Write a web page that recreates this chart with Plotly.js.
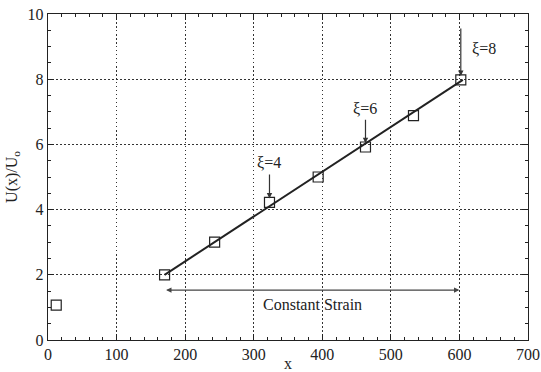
<!DOCTYPE html>
<html><head><meta charset="utf-8">
<script src="https://cdn.plot.ly/plotly-3.0.1.min.js"></script>
<style>html,body{margin:0;padding:0;background:#fff}#c{width:541px;height:372px}</style>
</head><body><div id="c"></div>
<script>
const xData = [12, 170, 243, 323, 394, 463, 533, 602];
const yData = [1.07, 2.0, 3.0, 4.22, 5.0, 5.92, 6.88, 7.98];
const fitX = [170, 605];
const fitY = [2.0, 7.98];
const xiLabels = ['ξ=4', 'ξ=6', 'ξ=8'];
const xiX = [323, 463, 602];
const xiY = [4.22, 5.92, 7.98];
const strainLabel = 'Constant Strain';
const strainRange = [170, 600];
const strainY = 1.53;

const font = {family: 'Liberation Serif, Times New Roman, serif', color: '#222', size: 16};
const traces = [
  {x: fitX, y: fitY, mode: 'lines', line: {color: '#222', width: 2}, hoverinfo: 'skip'},
  {x: xData, y: yData, mode: 'markers', marker: {symbol: 'square-open', size: 10, color: '#222', line: {width: 1.2}}}
];
const ann = [];
const textPos = [[323, 5.45], [463, 7.1], [636, 8.95]];
const tailY = [5.12, 6.8, 9.6];
xiLabels.forEach((t, i) => {
  ann.push({x: xiX[i], y: xiY[i] + 0.12, ax: xiX[i], ay: tailY[i], axref: 'x', ayref: 'y', xref: 'x', yref: 'y',
    text: '', showarrow: true, arrowhead: 2, arrowsize: 0.9, arrowwidth: 1.2, arrowcolor: '#333'});
  ann.push({x: textPos[i][0], y: textPos[i][1], text: t, showarrow: false, xref: 'x', yref: 'y', font: font});
});
ann.push({x: strainRange[1], y: strainY, ax: strainRange[0], ay: strainY, axref: 'x', ayref: 'y', xref: 'x', yref: 'y',
  text: '', showarrow: true, arrowhead: 2, startarrowhead: 2, arrowside: 'end+start', arrowsize: 0.9, arrowwidth: 1.2, arrowcolor: '#444'});
ann.push({x: (strainRange[0] + strainRange[1]) / 2, y: strainY - 0.43, text: strainLabel, showarrow: false, xref: 'x', yref: 'y', font: font});

const axisCommon = {
  showline: true, linecolor: '#222', linewidth: 1.2, mirror: 'allticks', ticks: 'inside', ticklen: 6, tickcolor: '#222',
  showgrid: true, gridcolor: '#333', griddash: '1.5px,2.5px', gridwidth: 1, zeroline: false, tickfont: font
};
const layout = {
  width: 541, height: 372, margin: {l: 48, r: 13, t: 14, b: 32},
  paper_bgcolor: '#fff', plot_bgcolor: '#fff', showlegend: false, font: font,
  xaxis: Object.assign({}, axisCommon, {range: [0, 700], dtick: 100, tick0: 0,
    minor: {ticks: 'inside', dtick: 20, ticklen: 3, tickcolor: '#222', showgrid: false},
    title: {text: 'x', font: font, standoff: 2}}),
  yaxis: Object.assign({}, axisCommon, {range: [0, 10], dtick: 2, tick0: 0,
    minor: {ticks: 'inside', dtick: 0.5, ticklen: 3, tickcolor: '#222', showgrid: false},
    title: {text: 'U(x)/U<sub>o</sub>', font: font, standoff: 6}}),
  annotations: ann
};
Plotly.newPlot('c', traces, layout, {displayModeBar: false, staticPlot: true});
</script></body></html>
